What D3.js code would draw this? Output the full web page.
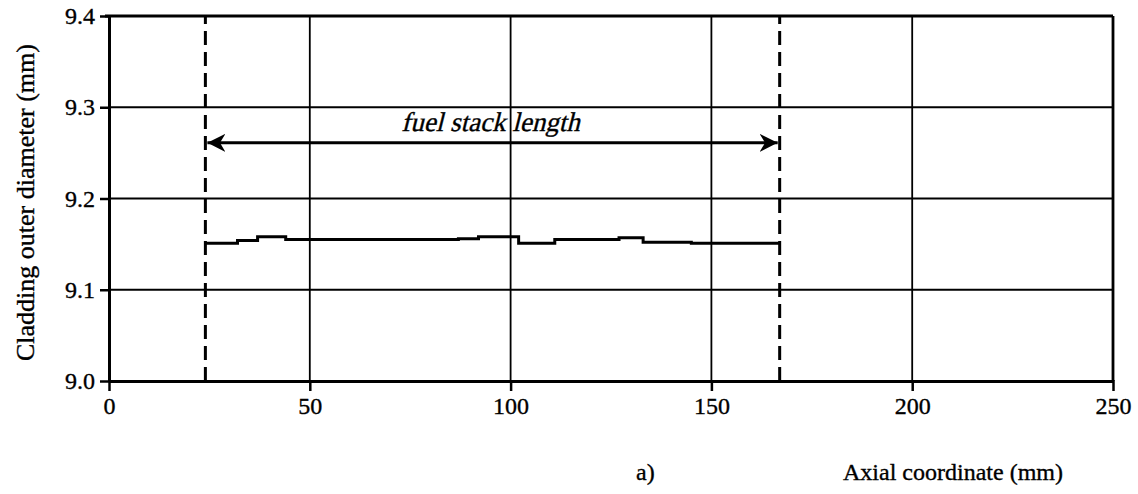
<!DOCTYPE html>
<html lang="en">
<head>
    <meta charset="UTF-8">
    <title>Cladding outer diameter</title>
    <script src="https://d3js.org/d3.v7.min.js"></script>
    <style>
        body { margin: 0; background: #fff; }
        svg text { font-family: "Liberation Serif", "Times New Roman", "DejaVu Serif", serif; fill: #000; }
    </style>
</head>
<body>
<script>
    const width  = 1138;
    const height = 494;
    const serif  = "'Liberation Serif', 'Times New Roman', serif";

    // axial position (mm) and cladding outer diameter (mm), step profile
    const axialPos = [24, 32, 37, 44, 87, 92, 102, 111, 127, 133, 145, 167];
    const diameter = [9.151, 9.154, 9.158, 9.155, 9.156, 9.158, 9.151, 9.155, 9.157, 9.152, 9.151, 9.151];

    const stackStart = 24;
    const stackEnd   = 167;
    const arrowLevel = 9.261;

    const xTicks = [0, 50, 100, 150, 200, 250];
    const yTicks = [9.0, 9.1, 9.2, 9.3, 9.4];

    const x = d3.scaleLinear().domain([0, 250]).range([109, 1113]);
    const y = d3.scaleLinear().domain([9.0, 9.4]).range([381, 16]);

    const svg = d3.select("body").append("svg").attr("width", width).attr("height", height)
        .attr("font-family", serif);

    svg.append("defs").append("marker")
        .attr("id", "arrow")
        .attr("viewBox", "0 0 10 10")
        .attr("refX", 10).attr("refY", 5)
        .attr("markerWidth", 6).attr("markerHeight", 6)
        .attr("markerUnits", "strokeWidth")
        .attr("orient", "auto-start-reverse")
        .append("path").attr("d", "M0,0 L10,5 L0,10 L3,5 Z").attr("fill", "#000");

    // grid
    svg.append("g").selectAll("line").data(yTicks.slice(1, -1)).enter().append("line")
        .attr("x1", x(0)).attr("x2", x(250))
        .attr("y1", d => y(d)).attr("y2", d => y(d))
        .attr("stroke", "#000").attr("stroke-width", 1.8);
    svg.append("g").selectAll("line").data(xTicks.slice(1, -1)).enter().append("line")
        .attr("x1", d => x(d)).attr("x2", d => x(d))
        .attr("y1", y(9.0)).attr("y2", y(9.4))
        .attr("stroke", "#000").attr("stroke-width", 1.8);

    // frame top/right
    svg.append("line").attr("x1", x(0) - 4).attr("x2", x(250)).attr("y1", y(9.4)).attr("y2", y(9.4))
        .attr("stroke", "#000").attr("stroke-width", 2.8);
    svg.append("line").attr("x1", x(250)).attr("x2", x(250)).attr("y1", y(9.4)).attr("y2", y(9.0))
        .attr("stroke", "#000").attr("stroke-width", 2.8);

    // axes
    const xAxis = svg.append("g").attr("transform", "translate(0," + y(9.0) + ")")
        .call(d3.axisBottom(x).tickValues(xTicks).tickSize(10).tickSizeOuter(0).tickPadding(6));
    const yAxis = svg.append("g").attr("transform", "translate(" + x(0) + ",0)")
        .call(d3.axisLeft(y).tickValues(yTicks).tickFormat(d3.format(".1f")).tickSize(9).tickSizeOuter(0).tickPadding(5));
    [xAxis, yAxis].forEach(a => {
        a.attr("font-family", serif).attr("font-size", 24);
        a.select(".domain").attr("stroke", "#000").attr("stroke-width", 3);
        a.selectAll(".tick line").attr("stroke", "#000").attr("stroke-width", 2.5);
        a.selectAll(".tick text").attr("fill", "#000")
            .attr("stroke", "#000").attr("stroke-width", 0.35);
    });
    xAxis.selectAll(".tick line").attr("y1", -1);

    // fuel stack boundaries
    svg.append("g").selectAll("line").data([stackStart, stackEnd]).enter().append("line")
        .attr("x1", d => x(d)).attr("x2", d => x(d))
        .attr("y1", y(9.0)).attr("y2", y(9.4))
        .attr("stroke", "#000").attr("stroke-width", 3)
        .attr("stroke-dasharray", "14,7");

    // arrow
    svg.append("line")
        .attr("x1", x(stackStart) + 2).attr("x2", x(stackEnd) - 2)
        .attr("y1", y(arrowLevel)).attr("y2", y(arrowLevel))
        .attr("stroke", "#000").attr("stroke-width", 3)
        .attr("marker-start", "url(#arrow)")
        .attr("marker-end", "url(#arrow)");
    // italic look via skew so the serif face is kept
    svg.append("text")
        .attr("transform", "translate(" + (x((stackStart + stackEnd) / 2) - 2) + "," + (y(arrowLevel) - 12) + ") skewX(-14)")
        .attr("text-anchor", "middle").attr("font-size", 27)
        .attr("stroke", "#000").attr("stroke-width", 0.35)
        .text("fuel stack length");

    // data line
    const pts = axialPos.map((d, i) => [d, diameter[i]]);
    svg.append("path").datum(pts)
        .attr("d", d3.line().x(d => x(d[0])).y(d => y(d[1])).curve(d3.curveStepAfter))
        .attr("fill", "none").attr("stroke", "#000").attr("stroke-width", 3);

    // labels
    svg.append("text")
        .attr("transform", "translate(34," + (y(9.2) + 4) + ") rotate(-90)")
        .attr("text-anchor", "middle").attr("font-size", 26)
        .attr("stroke", "#000").attr("stroke-width", 0.35)
        .text("Cladding outer diameter (mm)");
    svg.append("text").attr("x", 636).attr("y", 480).attr("font-size", 24)
        .attr("stroke", "#000").attr("stroke-width", 0.35).text("a)");
    svg.append("text").attr("x", 953).attr("y", 480).attr("text-anchor", "middle")
        .attr("font-size", 24).attr("stroke", "#000").attr("stroke-width", 0.35)
        .text("Axial coordinate (mm)");
</script>
</body>
</html>
